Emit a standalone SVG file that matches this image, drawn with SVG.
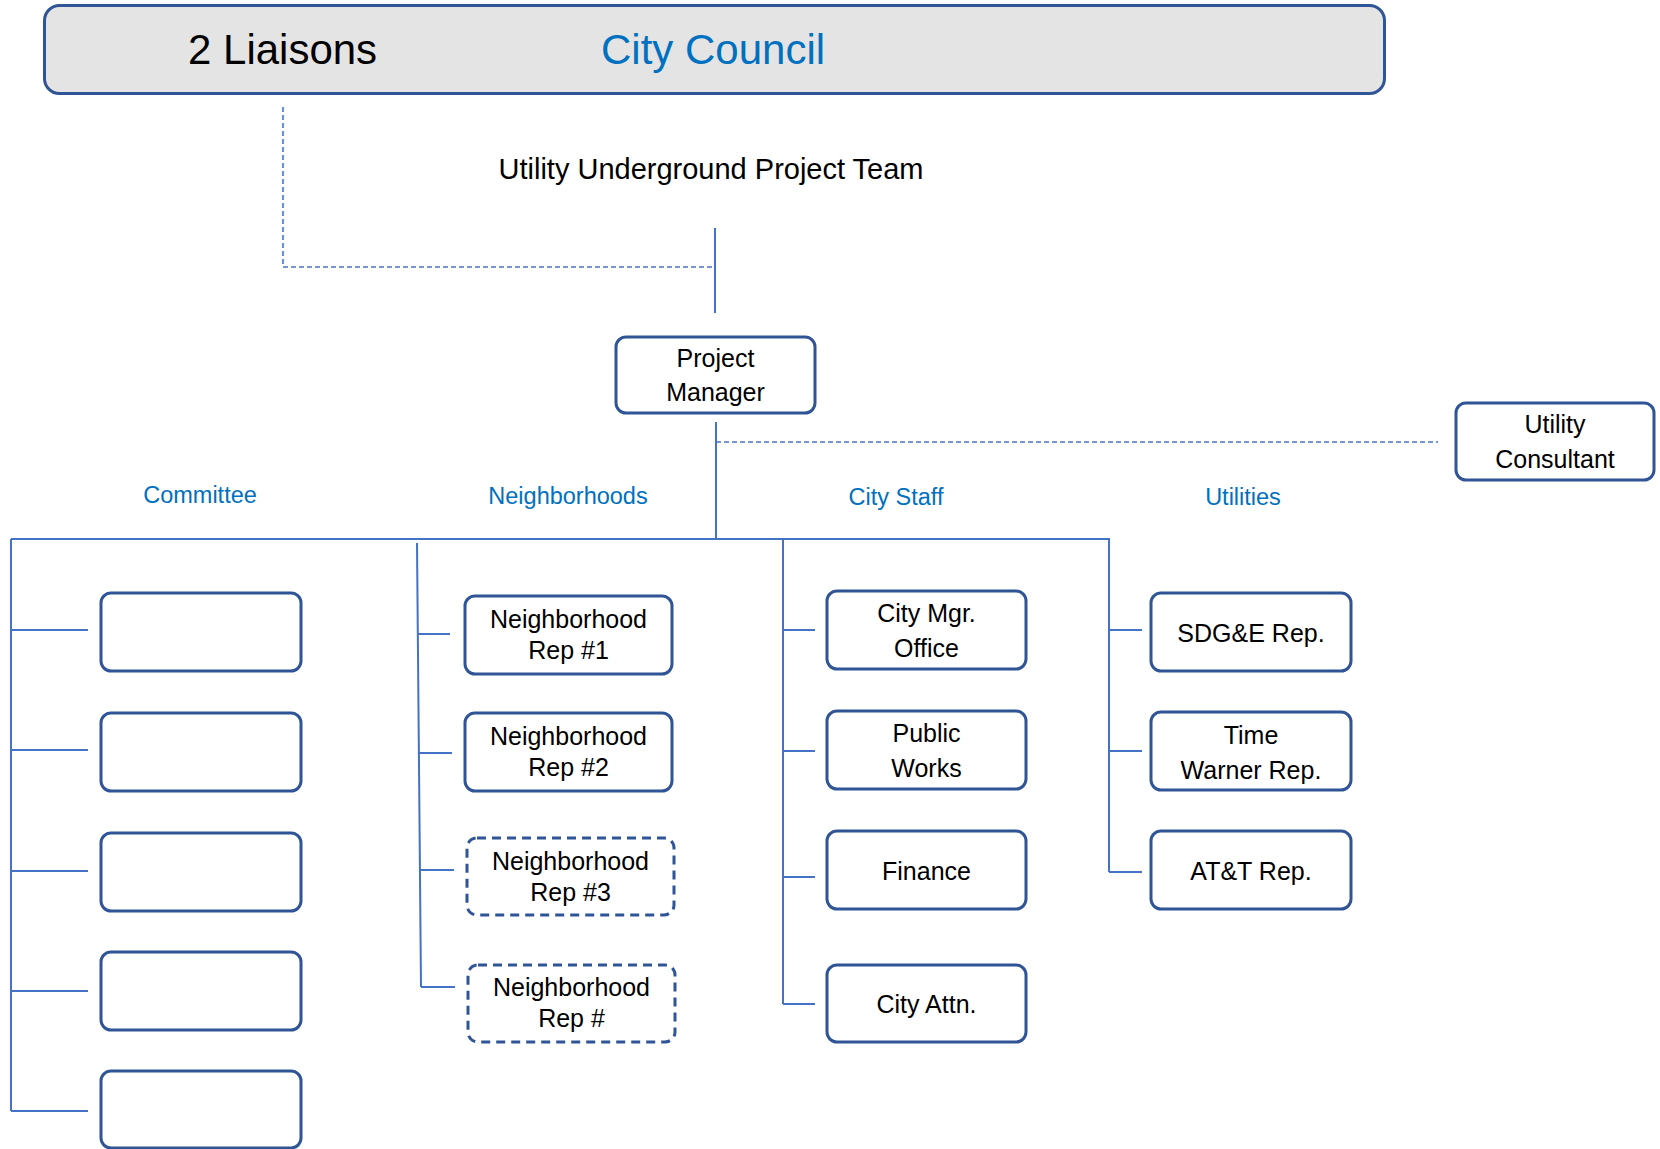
<svg xmlns="http://www.w3.org/2000/svg" width="1660" height="1149" viewBox="0 0 1660 1149">
<style>
.box{fill:#fff;stroke:#2f5597;stroke-width:3}
.dbox{fill:#fff;stroke:#2f5597;stroke-width:3;stroke-dasharray:9 6}
.ln{fill:none;stroke:#4472c4;stroke-width:2}
.dl{fill:none;stroke:#4472c4;stroke-width:1.6;stroke-dasharray:5 3}
.t{font-family:"Liberation Sans",Arial,sans-serif;font-size:25px;fill:#000;text-anchor:middle}
.h{font-family:"Liberation Sans",Arial,sans-serif;font-size:23.5px;fill:#0070c0;text-anchor:middle}
</style>
<rect width="1660" height="1149" fill="#fff"/>
<g id="connectors">
<path class="dl" d="M283,107 V267 H714"/>
<path class="ln" d="M715,228 V313"/>
<path class="ln" d="M716,422 V539"/>
<path class="dl" d="M716,442 H1438"/>
<path class="ln" d="M11,539 H1109 V872"/>
<path class="ln" d="M11,539 V1111"/>
<path class="ln" d="M11,630 H88 M11,750 H88 M11,871 H88 M11,991 H88 M11,1111 H88"/>
<path class="ln" d="M417,543 L421,987"/>
<path class="ln" d="M417,634 H450 M418,753 H452 M419,870 H454 M421,987 H455"/>
<path class="ln" d="M783,539 V1004"/>
<path class="ln" d="M783,630 H815 M783,751 H815 M783,877 H815 M783,1004 H815"/>
<path class="ln" d="M1109,630 H1142 M1109,751 H1142 M1109,872 H1142"/>
</g>
<g id="city-council">
<rect x="44.5" y="5.5" width="1340" height="88" rx="15" fill="#e4e4e4" stroke="#2f5597" stroke-width="3"/>
<text x="188" y="64" font-family="'Liberation Sans',Arial,sans-serif" font-size="42" fill="#000">2 Liaisons</text>
<text x="601" y="64" font-family="'Liberation Sans',Arial,sans-serif" font-size="42" fill="#0070c0">City Council</text>
</g>
<g id="team-title">
<text x="711" y="179" font-family="'Liberation Sans',Arial,sans-serif" font-size="29" fill="#000" text-anchor="middle">Utility Underground Project Team</text>
</g>
<g id="project-manager">
<rect class="box" x="616" y="337" width="199" height="76" rx="10"/>
<text class="t" x="715.5" y="367">Project</text>
<text class="t" x="715.5" y="401">Manager</text>
</g>
<g id="utility-consultant">
<rect class="box" x="1456" y="403" width="198" height="77" rx="10"/>
<text class="t" x="1555" y="433">Utility</text>
<text class="t" x="1555" y="468">Consultant</text>
</g>
<g id="labels">
<text class="h" x="200" y="503">Committee</text>
<text class="h" x="568" y="504">Neighborhoods</text>
<text class="h" x="896" y="505">City Staff</text>
<text class="h" x="1243" y="505">Utilities</text>
</g>
<g id="committee-1"><rect class="box" x="101" y="593" width="200" height="78" rx="10"/></g>
<g id="committee-2"><rect class="box" x="101" y="713" width="200" height="78" rx="10"/></g>
<g id="committee-3"><rect class="box" x="101" y="833" width="200" height="78" rx="10"/></g>
<g id="committee-4"><rect class="box" x="101" y="952" width="200" height="78" rx="10"/></g>
<g id="committee-5"><rect class="box" x="101" y="1071" width="200" height="77" rx="10"/></g>
<g id="neighborhood-1">
<rect class="box" x="465" y="596" width="207" height="78" rx="10"/>
<text class="t" x="568.5" y="628">Neighborhood</text>
<text class="t" x="568.5" y="659">Rep #1</text>
</g>
<g id="neighborhood-2">
<rect class="box" x="465" y="713" width="207" height="78" rx="10"/>
<text class="t" x="568.5" y="745">Neighborhood</text>
<text class="t" x="568.5" y="776">Rep #2</text>
</g>
<g id="neighborhood-3">
<rect class="dbox" x="467" y="838" width="207" height="77" rx="10"/>
<text class="t" x="570.5" y="870">Neighborhood</text>
<text class="t" x="570.5" y="901">Rep #3</text>
</g>
<g id="neighborhood-4">
<rect class="dbox" x="468" y="965" width="207" height="77" rx="10"/>
<text class="t" x="571.5" y="996">Neighborhood</text>
<text class="t" x="571.5" y="1027">Rep #</text>
</g>
<g id="city-mgr">
<rect class="box" x="827" y="591" width="199" height="78" rx="10"/>
<text class="t" x="926.5" y="622">City Mgr.</text>
<text class="t" x="926.5" y="657">Office</text>
</g>
<g id="public-works">
<rect class="box" x="827" y="711" width="199" height="78" rx="10"/>
<text class="t" x="926.5" y="742">Public</text>
<text class="t" x="926.5" y="777">Works</text>
</g>
<g id="finance">
<rect class="box" x="827" y="831" width="199" height="78" rx="10"/>
<text class="t" x="926.5" y="880">Finance</text>
</g>
<g id="city-attn">
<rect class="box" x="827" y="965" width="199" height="77" rx="10"/>
<text class="t" x="926.5" y="1013">City Attn.</text>
</g>
<g id="sdge">
<rect class="box" x="1151" y="593" width="200" height="78" rx="10"/>
<text class="t" x="1251" y="642">SDG&amp;E Rep.</text>
</g>
<g id="time-warner">
<rect class="box" x="1151" y="712" width="200" height="78" rx="10"/>
<text class="t" x="1251" y="744">Time</text>
<text class="t" x="1251" y="779">Warner Rep.</text>
</g>
<g id="att">
<rect class="box" x="1151" y="831" width="200" height="78" rx="10"/>
<text class="t" x="1251" y="880">AT&amp;T Rep.</text>
</g>
</svg>
